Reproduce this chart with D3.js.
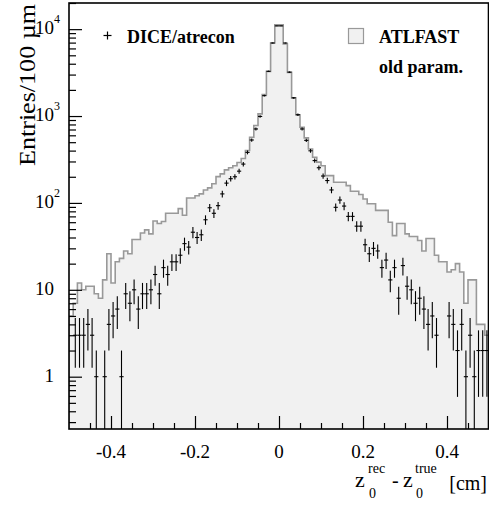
<!DOCTYPE html>
<html lang="en">
<head>
<meta charset="UTF-8">
<title>z0 resolution</title>
<script src="https://d3js.org/d3.v7.min.js"></script>
<style>
  body { margin: 0; background: #fff; }
  svg { display: block; }
  text { font-family: "Liberation Serif", "Times New Roman", serif; fill: #000; }
  .legend text { font-weight: bold; font-size: 18px; }
  .tick-label { font-size: 19px; }
</style>
</head>
<body>
<script>

// bins of 100 um from -0.5 to 0.5 cm
var binStart = -0.5, binWidth = 0.01;

// ATLFAST (old param.) histogram, entries per bin
var atlfast = [
  5, 7, 12, 10, 11, 11, 9, 8, 13, 26,
  12, 21, 23, 28, 26, 38, 38, 45, 49, 44,
  62, 58, 61, 76, 76, 76, 86, 72, 114, 114,
  121, 127, 141, 149, 166, 201, 216, 240, 254, 268,
  292, 324, 401, 570, 777, 1060, 1766, 3270, 6930, 11200,
  11200, 6750, 3180, 1620, 1034, 744, 560, 418, 336, 295,
  268, 206, 206, 173, 173, 173, 158, 136, 136, 125,
  111, 98, 98, 82, 82, 82, 60, 42, 58, 58,
  44, 41, 41, 37, 28, 39, 39, 25, 21, 21,
  16, 17, 20, 16, 7, 13, 13, 4, 4, 3
];

// DICE/atrecon points, entries per bin
var dice = [
  0, 3, 3, 3, 4, 3, 1, 0, 1, 4,
  5, 6, 1, 9, 7, 10, 6, 9, 9, 10,
  15, 9, 18, 15, 21, 21, 25, 34, 31, 46,
  40, 43, 64, 88, 76, 93, 127, 169, 190, 200,
  232, 280, 382, 530, 710, 990, 1716, 3270, 6930, 10900,
  10900, 6930, 3200, 1620, 1034, 710, 525, 398, 307, 254,
  204, 181, 141, 89, 108, 92, 70, 70, 54, 54,
  33, 26, 30, 28, 18, 22, 13, 18, 8, 19,
  11, 10, 7, 8, 6, 4, 5, 3, 0, 0,
  5, 4, 2, 4, 1, 3, 1, 2, 2, 2
];

var xMajor = [-0.4, -0.2, 0, 0.2, 0.4];
var xLabels = ["-0.4", "-0.2", "0", "0.2", "0.4"];
var yDecades = [1, 10, 100, 1000, 10000];

var margin = {top: 3, right: 0, bottom: 79, left: 69},
    W = 489, H = 508,
    width = W - margin.left - margin.right,
    height = H - margin.top - margin.bottom;

var x = d3.scaleLinear().domain([-0.5, 0.5]).range([0, width]);
var y = d3.scaleLog().domain([0.25, 20000]).range([height, 0]);

var bins = atlfast.map(function(v, i) {
  return {lo: binStart + i * binWidth, hi: binStart + (i + 1) * binWidth, hist: v, pts: dice[i]};
});

var svg = d3.select("body").append("svg")
    .attr("width", W)
    .attr("height", H);

var g = svg.append("g")
    .attr("transform", "translate(" + margin.left + "," + margin.top + ")");

g.append("clipPath").attr("id", "plot")
  .append("rect").attr("width", width).attr("height", height);

// step outline points
var steps = [];
bins.forEach(function(b) {
  steps.push([b.lo, b.hist]);
  steps.push([b.hi, b.hist]);
});

var area = d3.area()
    .x(function(d) { return x(d[0]); })
    .y0(height)
    .y1(function(d) { return y(d[1]); });

var line = d3.line()
    .x(function(d) { return x(d[0]); })
    .y(function(d) { return y(d[1]); });

var plot = g.append("g").attr("clip-path", "url(#plot)");

plot.append("path")
    .datum(steps)
    .attr("d", area)
    .attr("fill", "#f1f1f1");

plot.append("path")
    .datum([[binStart, 0.25]].concat(steps, [[binStart + atlfast.length * binWidth, 0.25]]))
    .attr("d", line)
    .attr("fill", "none")
    .attr("stroke", "#999")
    .attr("stroke-width", 1.6);

// data points with sqrt(N) errors
var pts = plot.selectAll(".pt")
    .data(bins.filter(function(b) { return b.pts > 0; }))
    .enter().append("g")
    .attr("class", "pt")
    .attr("stroke", "#000")
    .attr("stroke-width", 1.1);

pts.append("line")
    .attr("x1", function(d) { return x((d.lo + d.hi) / 2); })
    .attr("x2", function(d) { return x((d.lo + d.hi) / 2); })
    .attr("y1", function(d) { var lo = d.pts - Math.sqrt(d.pts); return lo > 0.25 ? y(lo) : height; })
    .attr("y2", function(d) { return y(d.pts + Math.sqrt(d.pts)); });

pts.append("line")
    .attr("x1", function(d) { return x(d.lo); })
    .attr("x2", function(d) { return x(d.hi); })
    .attr("y1", function(d) { return y(d.pts); })
    .attr("y2", function(d) { return y(d.pts); });

// y axis: ticks inside the frame
var yMinor = [];
[0.1, 1, 10, 100, 1000, 10000].forEach(function(dec) {
  for (var k = 2; k <= 9; k++) {
    var v = dec * k;
    if (v >= 0.25 && v <= 20000) yMinor.push(v);
  }
});

g.append("g")
    .call(d3.axisLeft(y).tickValues(yMinor).tickSize(-7).tickFormat(""))
    .call(function(s) { s.select(".domain").remove(); });

g.append("g")
    .call(d3.axisLeft(y).tickValues(yDecades).tickSize(-13).tickFormat(""))
    .call(function(s) { s.select(".domain").remove(); });

// x axis
var xMinor = d3.range(-0.45, 0.5, 0.05).filter(function(v) {
  return Math.abs(Math.round(v * 5) - v * 5) > 1e-6;
});

g.append("g")
    .attr("transform", "translate(0," + height + ")")
    .call(d3.axisBottom(x).tickValues(xMinor).tickSize(-6).tickFormat(""))
    .call(function(s) { s.select(".domain").remove(); });

g.append("g")
    .attr("transform", "translate(0," + height + ")")
    .call(d3.axisBottom(x).tickValues(xMajor).tickSize(-13).tickFormat(""))
    .call(function(s) { s.select(".domain").remove(); });

svg.selectAll(".tick line").attr("stroke", "#000").attr("stroke-width", 1.2);

// frame
g.append("rect")
    .attr("x", 0).attr("y", 0)
    .attr("width", width - 0.5).attr("height", height)
    .attr("fill", "none")
    .attr("stroke", "#000")
    .attr("stroke-width", 1.6);

// x tick labels
g.selectAll(".xl")
    .data(xMajor)
    .enter().append("text")
    .attr("class", "tick-label")
    .attr("x", function(d) { return x(d); })
    .attr("y", height + 29)
    .attr("text-anchor", "middle")
    .text(function(d, i) { return xLabels[i]; });

// y tick labels
yDecades.forEach(function(v) {
  var p = Math.round(Math.log10(v));
  var ty = y(v) + margin.top;
  var base = p === 0 ? "1" : "10";
  svg.append("text")
      .attr("class", "tick-label")
      .attr("x", 54).attr("y", ty + 5)
      .attr("text-anchor", "end")
      .text(base);
  if (p > 1) {
    svg.append("text")
        .attr("x", 54).attr("y", ty - 6)
        .style("font-size", "12px")
        .text(p);
  }
});

// axis titles
svg.append("text")
    .attr("transform", "translate(35,166) rotate(-90)")
    .style("font-size", "24px")
    .attr("textLength", 162)
    .attr("lengthAdjust", "spacingAndGlyphs")
    .text("Entries/100 \u00b5m");

var xt = svg.append("g");
xt.append("text").attr("x", 355).attr("y", 487).style("font-size", "22px").text("z");
xt.append("text").attr("x", 368).attr("y", 473).style("font-size", "14px").text("rec");
xt.append("text").attr("x", 369).attr("y", 498).style("font-size", "14px").text("0");
xt.append("text").attr("x", 392).attr("y", 487).style("font-size", "20px").text("-");
xt.append("text").attr("x", 403).attr("y", 487).style("font-size", "22px").text("z");
xt.append("text").attr("x", 415).attr("y", 473).style("font-size", "14px").text("true");
xt.append("text").attr("x", 416).attr("y", 498).style("font-size", "14px").text("0");
xt.append("text").attr("x", 487).attr("y", 490).attr("text-anchor", "end").style("font-size", "20px").text("[cm]");

// legend
var leg = svg.append("g").attr("class", "legend");
leg.append("line").attr("x1", 103.5).attr("x2", 111.5).attr("y1", 35.5).attr("y2", 35.5)
    .attr("stroke", "#000").attr("stroke-width", 1.2);
leg.append("line").attr("x1", 107.5).attr("x2", 107.5).attr("y1", 31.5).attr("y2", 39.5)
    .attr("stroke", "#000").attr("stroke-width", 1.2);
leg.append("text").attr("x", 127).attr("y", 43).text("DICE/atrecon");

leg.append("rect").attr("x", 348.5).attr("y", 28.5).attr("width", 15).attr("height", 15)
    .attr("fill", "#f1f1f1").attr("stroke", "#999").attr("stroke-width", 1.2);
leg.append("text").attr("x", 379).attr("y", 42.5).text("ATLFAST");
leg.append("text").attr("x", 379).attr("y", 73).text("old param.");

</script>
</body>
</html>
